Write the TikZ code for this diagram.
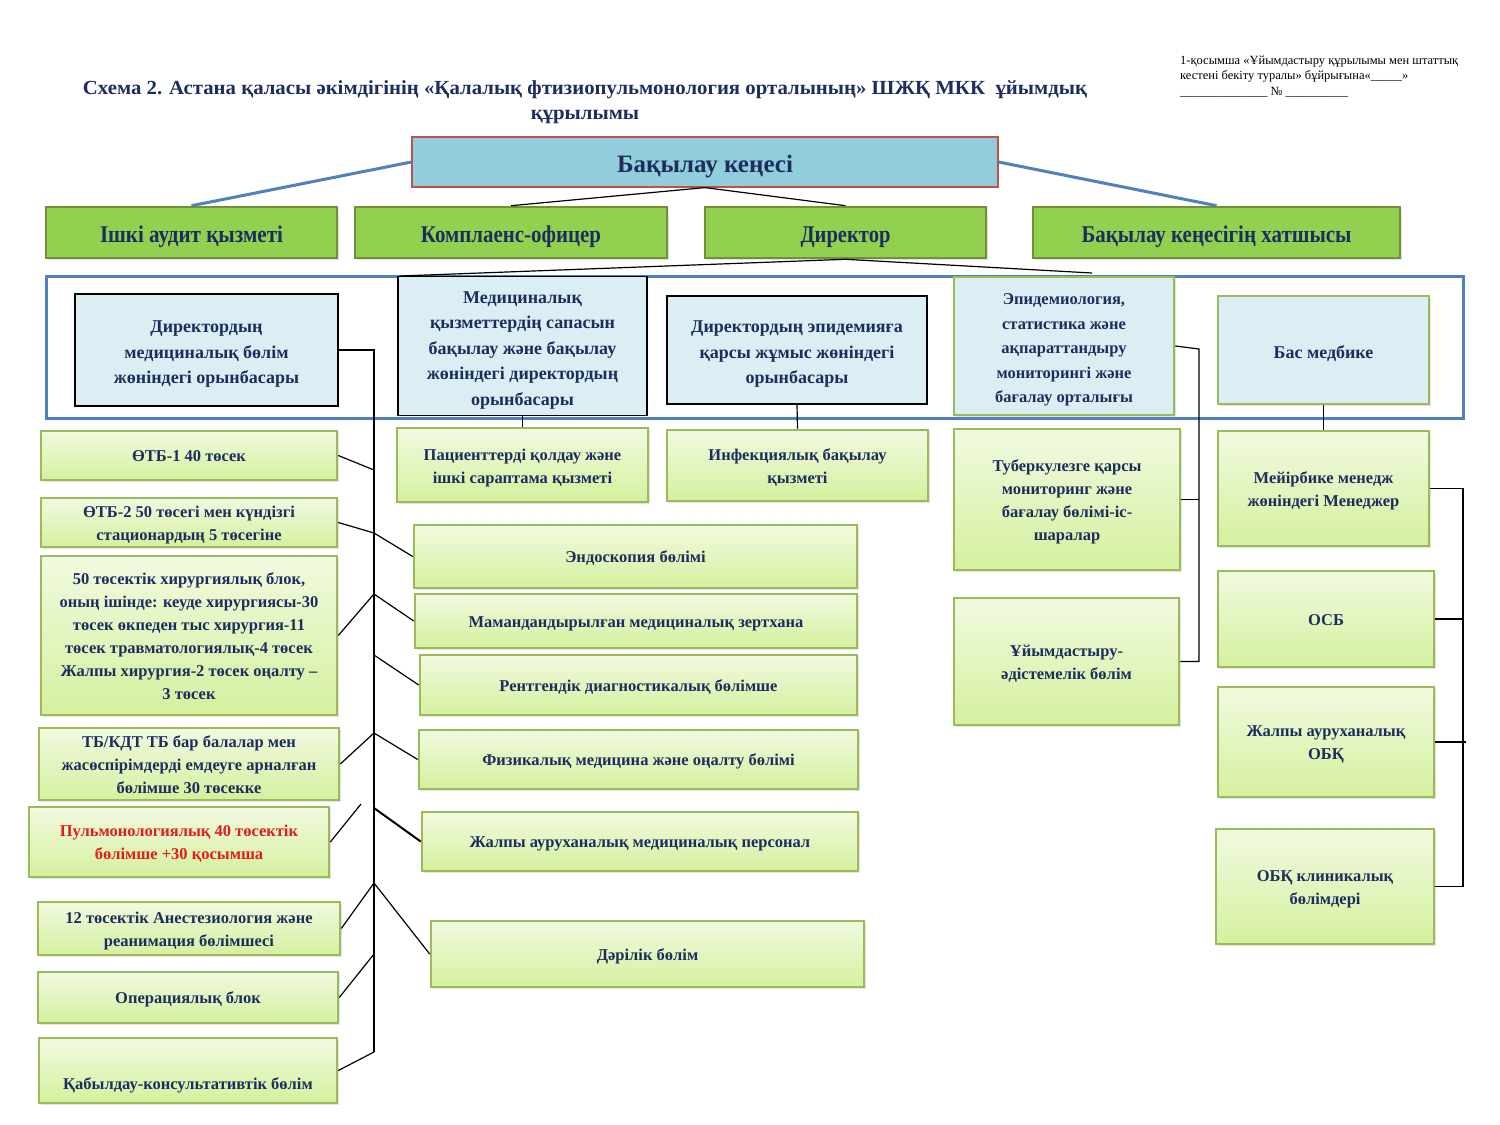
\documentclass[tikz,border=0pt]{standalone}
\usepackage{fontspec}
\usepackage{graphicx}
\setmainfont{Liberation Serif}
\usetikzlibrary{shadows}
\definecolor{navy}{HTML}{1C2D5E}
\definecolor{redt}{HTML}{E31C1C}
\definecolor{boardfill}{HTML}{92CDDC}
\definecolor{boardline}{HTML}{C0504D}
\definecolor{gfill}{HTML}{92D050}
\definecolor{gline}{HTML}{70903A}
\definecolor{lbfill}{HTML}{DAEEF3}
\definecolor{gtop}{HTML}{F1FAE0}
\definecolor{gbot}{HTML}{D5F09E}
\definecolor{lgline}{HTML}{9BBB59}
\definecolor{bline}{HTML}{4F81BD}
\newcommand{\fitw}[2]{\resizebox{#1}{\height}{#2}}
\newcommand{\firstrow}{19pt}
\newcommand{\bt}[1]{\begin{tabular}{@{}c@{}}\rule{0pt}{\firstrow}#1\end{tabular}}
\tikzset{
  row1/.code={\def\firstrow{#1}},
  shad/.style={drop shadow={shadow xshift=1.5pt, shadow yshift=-2pt, opacity=0.22}},
  board/.style={draw=boardline, line width=1.2pt, fill=boardfill, text=navy, font=\fontsize{25}{28}\selectfont\bfseries, inner sep=0pt, text height=27pt},
  topbox/.style={shad, draw=gline, line width=2.6pt, fill=gfill, text=navy, font=\fontsize{24}{28}\selectfont\bfseries, inner sep=0pt, text height=24.5pt},
  depbox/.style={draw=black, line width=1.8pt, fill=lbfill, text=navy, font=\fontsize{18}{25.5}\selectfont\bfseries, inner sep=0pt, row1=24.2pt},
  depgbox/.style={shad, draw=lgline, line width=2.6pt, fill=lbfill, text=navy, font=\fontsize{18}{25.5}\selectfont\bfseries, inner sep=0pt, row1=24.2pt},
  unit/.style={shad, draw=lgline, line width=2.6pt, top color=gtop, bottom color=gbot, text=navy, font=\fontsize{16.5}{23}\selectfont\bfseries, inner sep=0pt, row1=19pt},
  blueln/.style={draw=bline, line width=3pt},
  conn/.style={draw=black, line width=1.2pt},
}
\begin{document}
\begin{tikzpicture}[x=1pt,y=-1pt]
\useasboundingbox (0,0) rectangle (1500,1125);
\fill[white] (0,0) rectangle (1500,1125);

% title and note
\node[text=navy, font=\fontsize{20}{25}\selectfont\bfseries, inner sep=0pt] (title) at (585,102)
  {\fitw{1004pt}{\begin{tabular}{@{}c@{}}Схема 2. Астана қаласы әкімдігінің «Қалалық фтизиопульмонология орталының» ШЖҚ МКК\ \ ұйымдық\\ құрылымы\end{tabular}}};
\node[anchor=north west, font=\fontsize{12.5}{15.5}\selectfont, inner sep=0pt] (note) at (1180,53)
  {\fitw{278pt}{\begin{tabular}{@{}l@{}}1-қосымша «Ұйымдастыру құрылымы мен штаттық\\ кестені бекіту туралы» бұйрығына«\_\_\_\_\_»\\ \_\_\_\_\_\_\_\_\_\_\_\_\_\_ № \_\_\_\_\_\_\_\_\_\_\end{tabular}}};

% top level
\node[board, minimum width=586pt, minimum height=50pt] (board) at (705,162) {\fitw{176pt}{Бақылау кеңесі}};
\node[topbox, minimum width=291pt, minimum height=51pt] (audit) at (191.5,232.5) {\fitw{183pt}{Ішкі аудит қызметі}};
\node[topbox, minimum width=312pt, minimum height=51pt] (compl) at (511,232.5) {\fitw{180pt}{Комплаенс-офицер}};
\node[topbox, minimum width=281pt, minimum height=51pt] (dir) at (845.5,232.5) {\fitw{90pt}{Директор}};
\node[topbox, minimum width=367pt, minimum height=51pt] (sec) at (1216.5,232.5) {\fitw{270pt}{Бақылау кеңесігің хатшысы}};

\draw[blueln] (board.west) -- (audit.north);
\draw[blueln] (board.east) -- (sec.north);
\draw[conn] (board.south) -- (compl.north);
\draw[conn] (board.south) -- (dir.north);

% deputies frame
\draw[draw=bline, line width=3pt] (46,276) rectangle (1463,418);
\node[depbox, minimum width=263pt, minimum height=112pt] (dm) at (206.5,350) {\bt{Директордың\\ медициналық бөлім\\ жөніндегі орынбасары}};
\node[depbox, minimum width=249pt, minimum height=139pt] (dq) at (522.5,346) {\bt{Медициналық\\ қызметтердің сапасын\\ бақылау және бақылау\\ жөніндегі директордың\\ орынбасары}};
\node[depbox, minimum width=260pt, minimum height=108pt] (de) at (797,350) {\bt{Директордың эпидемияға\\ қарсы жұмыс жөніндегі\\ орынбасары}};
\node[depgbox, minimum width=220pt, minimum height=138pt, font=\fontsize{16.5}{24.5}\selectfont\bfseries, row1=23.2pt] (ep) at (1064,346) {\bt{Эпидемиология,\\ статистика және\\ ақпараттандыру\\ мониторингі және\\ бағалау орталығы}};
\node[depgbox, minimum width=211pt, minimum height=108pt] (bm) at (1323.5,350) {\bt{Бас медбике}};

\coordinate (dl) at (400,276);
\coordinate (dr) at (1092,273);
\draw[conn] (dl) -- (dir.south) -- (dr);

% left column
\node[unit, minimum width=296pt, minimum height=49pt] (l1) at (189,455.5) {\bt{ӨТБ-1 40 төсек}};
\node[unit, minimum width=296pt, minimum height=47pt] (l2) at (189,522.5) {\bt{ӨТБ-2 50 төсегі мен күндізгі\\ стационардың 5 төсегіне}};
\node[unit, minimum width=296pt, minimum height=159pt] (l3) at (189,635.5) {\bt{50 төсектік хирургиялық блок,\\ оның ішінде: кеуде хирургиясы-30\\ төсек өкпеден тыс хирургия-11\\ төсек травматологиялық-4 төсек\\ Жалпы хирургия-2 төсек оңалту –\\ 3 төсек}};
\node[unit, minimum width=300pt, minimum height=66pt] (l4) at (189,764) {\bt{ТБ/КДТ ТБ бар балалар мен\\ жасөспірімдерді емдеуге арналған\\ бөлімше 30 төсекке}};
\node[unit, minimum width=300pt, minimum height=70pt, text=redt] (l5) at (179,842) {\bt{Пульмонологиялық 40 төсектік\\ бөлімше +30 қосымша}};
\node[unit, minimum width=302pt, minimum height=53pt] (l6) at (189,928.5) {\bt{12 төсектік Анестезиология және\\ реанимация бөлімшесі}};
\node[unit, minimum width=300pt, minimum height=51pt] (l7) at (188,997.5) {\bt{Операциялық блок}};
\node[unit, minimum width=298pt, minimum height=65pt, row1=45pt] (l8) at (188,1070.5) {\bt{Қабылдау-консультативтік бөлім}};

% middle column
\node[unit, minimum width=251pt, minimum height=74pt, row1=21pt] (m1) at (522.5,465) {\bt{Пациенттерді қолдау және\\ ішкі сараптама қызметі}};
\node[unit, minimum width=261pt, minimum height=71pt] (m2) at (797.5,465.5) {\bt{Инфекциялық бақылау\\ қызметі}};
\node[unit, minimum width=443pt, minimum height=63pt] (m3) at (635.5,556.5) {\bt{Эндоскопия бөлімі}};
\node[unit, minimum width=442pt, minimum height=54pt] (m4) at (636,621) {\bt{Мамандандырылған медициналық зертхана}};
\node[unit, minimum width=437pt, minimum height=60pt] (m5) at (638.5,685) {\bt{Рентгендік диагностикалық бөлімше}};
\node[unit, minimum width=439pt, minimum height=59pt] (m6) at (638.5,759.5) {\bt{Физикалық медицина және оңалту бөлімі}};
\node[unit, minimum width=436pt, minimum height=59pt] (m7) at (640,841.5) {\bt{Жалпы ауруханалық медициналық персонал}};
\node[unit, minimum width=433pt, minimum height=66pt] (m8) at (647.5,954) {\bt{Дәрілік бөлім}};

% right-centre column
\node[unit, minimum width=226pt, minimum height=141pt] (r1) at (1067,499.5) {\bt{Туберкулезге қарсы\\ мониторинг және\\ бағалау бөлімі-іс-\\ шаралар}};
\node[unit, minimum width=225pt, minimum height=127pt] (r2) at (1066.5,661.5) {\bt{Ұйымдастыру-\\ әдістемелік бөлім}};

% right column
\node[unit, minimum width=211pt, minimum height=115pt] (s1) at (1323.5,488.5) {\bt{Мейірбике менедж\\ жөніндегі Менеджер}};
\node[unit, minimum width=216pt, minimum height=96pt] (s2) at (1326,619) {\bt{ОСБ}};
\node[unit, minimum width=216pt, minimum height=110pt] (s3) at (1326,742) {\bt{Жалпы ауруханалық\\ ОБҚ}};
\node[unit, minimum width=218pt, minimum height=115pt] (s4) at (1325,886.5) {\bt{ОБҚ клиникалық\\ бөлімдері}};

% spine on the left
\coordinate (sp0) at (374,350);
\coordinate (sp1) at (374,1052);
\draw[conn] (dm.east) -- (sp0) -- (sp1);
\coordinate (j1) at (374,470);
\coordinate (j2) at (374,533);
\coordinate (j3) at (374,594);
\coordinate (j4) at (374,655);
\coordinate (j5) at (374,733);
\coordinate (j6) at (374,808);
\coordinate (j7) at (374,883);
\coordinate (j8) at (374,954);
\coordinate (p5) at (361,804);
\draw[conn] (l1.east) -- (j1);
\draw[conn] (l2.east) -- (j2) -- (m3.west);
\draw[conn] (l3.east) -- (j3) -- (m4.west);
\draw[conn] (j4) -- (m5.west);
\draw[conn] (l4.east) -- (j5) -- (m6.west);
\draw[conn] (l5.east) -- (p5);
\draw[conn, line width=2pt] (j6) -- (m7.west);
\draw[conn] (l6.east) -- (j7) -- (m8.west);
\draw[conn] (l7.east) -- (j8);
\draw[conn] (l8.east) -- (sp1);

% other connectors
\draw[conn] (dq.south) -- (m1.north);
\draw[conn] (de.south) -- (m2.north);
\draw[conn] (bm.south) -- (s1.north);
\coordinate (er0) at (1199,349);
\coordinate (er1) at (1199,661.5);
\draw[conn] (ep.east) -- (er0) -- (er1) -- (r2.east);
\draw[conn] (r1.east) -- (r1.east -| er0);
\coordinate (sr0) at (1463,488.5);
\coordinate (sr1) at (1463,886.5);
\draw[conn] (s1.east) -- (sr0) -- (sr1) -- (s4.east);
\draw[conn] (s2.east) -- (s2.east -| sr0);
\draw[conn] (s3.east) -- ++(31,0);
\end{tikzpicture}
\end{document}
